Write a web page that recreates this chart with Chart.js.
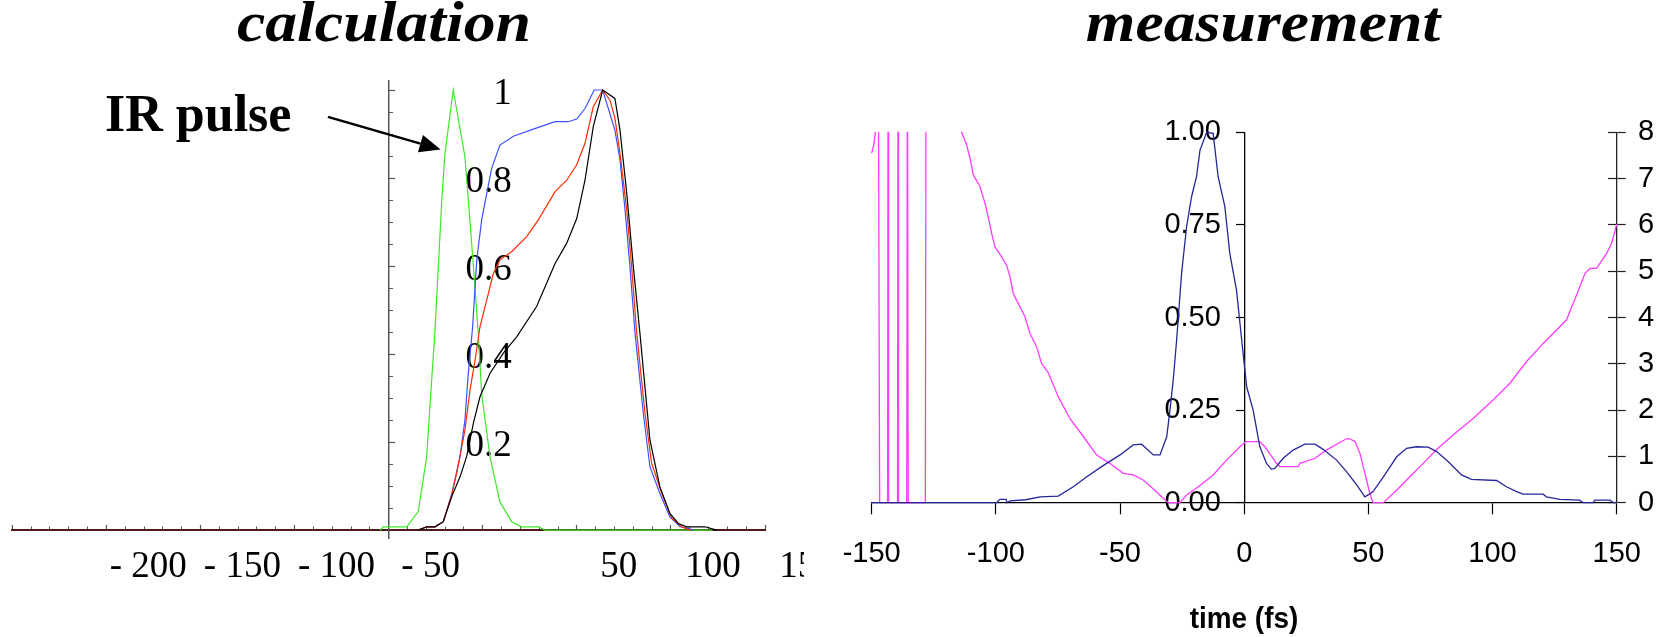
<!DOCTYPE html>
<html>
<head>
<meta charset="utf-8">
<script src="https://cdn.jsdelivr.net/npm/chart.js@4.4.1/dist/chart.umd.min.js"></script>
<style>
  html, body { margin: 0; padding: 0; background: #fff; }
  body { width: 1659px; height: 637px; position: relative; overflow: hidden; }
  canvas { position: absolute; top: 0; }
  #calc { left: 0; }
  #meas { left: 810px; }
  .txt { position: absolute; white-space: nowrap; color: #000; }
  .title {
    font-family: 'Liberation Serif', 'Times New Roman', serif;
    font-style: italic; font-weight: bold;
    font-size: 58px; line-height: 58px; top: -6.6px;
    transform: translateX(-50%) scaleX(1.1);
  }
  .note {
    font-family: 'Liberation Serif', 'Times New Roman', serif;
    font-weight: bold; font-size: 52px; line-height: 52px;
    left: 105px; top: 88px;
  }
  .axisTitle {
    font-family: 'Liberation Sans', Arial, sans-serif;
    font-weight: bold; font-size: 30px; line-height: 30px;
    left: 1244px; top: 602.6px;
    transform: translateX(-50%) scaleX(0.93);
  }
</style>
</head>
<body>
<canvas id="calc" width="804" height="637"></canvas>
<canvas id="meas" width="849" height="637"></canvas>
<div class="txt title" style="left:384px">calculation</div>
<div class="txt title" style="left:1263px">measurement</div>
<div class="txt note">IR pulse</div>
<div class="txt axisTitle">time (fs)</div>

<script>
// ---------- calculation: simulated pulse envelopes (time in fs, normalised) ----------
const irPulseT = [-4.6, -2.9, 9.6, 15.7, 20.2, 21.9, 24.6, 26.4, 28.2, 29.9, 34.3, 40.5, 42.3, 45.0, 47.6, 49.4, 53.8, 59.1, 65.4, 70.7, 79.5, 83.1, 172];
const irPulseI = [0, 0.0075, 0.0075, 0.042, 0.167, 0.28, 0.455, 0.60, 0.75, 0.856, 1.0, 0.848, 0.75, 0.60, 0.447, 0.31, 0.167, 0.064, 0.019, 0.0075, 0.0075, 0, 0];

const calcBlueT = [15.7, 20.2, 24.6, 29.0, 33.5, 37.9, 40.5, 42.3, 44.6, 46.8, 49.4, 52.1, 54.7, 59.1, 66.2, 76.8, 88.4, 95.4, 99.9, 104.3, 109.2, 113.7, 120.2, 122.9, 125.6, 128.2, 130.9, 135.3, 138.8, 144.1, 149.4, 154.8, 159.2, 161.7];
const calcBlueI = [0, 0.0075, 0.0075, 0.019, 0.083, 0.167, 0.25, 0.356, 0.462, 0.614, 0.705, 0.765, 0.822, 0.875, 0.895, 0.911, 0.928, 0.928, 0.934, 0.958, 1.0, 1.0, 0.909, 0.841, 0.727, 0.598, 0.447, 0.265, 0.144, 0.083, 0.030, 0.0075, 0.004, 0];

const calcRedT = [15.7, 20.2, 24.6, 29.0, 33.5, 36.1, 40.5, 43.2, 45.9, 48.5, 52.1, 55.6, 59.1, 65.4, 73.3, 79.5, 88.4, 94.6, 99.9, 104.3, 108.7, 113.7, 117.6, 120.2, 122.9, 126.5, 129.1, 131.8, 136.2, 139.7, 145.1, 150.4, 155.7, 160.1];
const calcRedI = [0, 0.0075, 0.0075, 0.019, 0.080, 0.129, 0.227, 0.318, 0.386, 0.462, 0.523, 0.583, 0.614, 0.633, 0.667, 0.705, 0.769, 0.795, 0.830, 0.879, 0.962, 1.0, 0.977, 0.936, 0.856, 0.727, 0.598, 0.447, 0.265, 0.152, 0.083, 0.027, 0.0075, 0];

const calcBlackT = [15.7, 20.2, 24.6, 29.0, 33.5, 37.9, 41.4, 45.0, 48.5, 53.8, 60.9, 68.0, 78.6, 88.4, 94.6, 99.9, 104.3, 108.7, 113.7, 120.2, 122.9, 126.5, 130.0, 133.5, 138.8, 144.1, 149.4, 153.9, 158.3, 168.1, 174.3];
const calcBlackI = [0, 0.0075, 0.0075, 0.019, 0.076, 0.121, 0.167, 0.243, 0.303, 0.356, 0.402, 0.439, 0.508, 0.606, 0.652, 0.708, 0.795, 0.917, 1.0, 0.981, 0.909, 0.765, 0.598, 0.447, 0.205, 0.098, 0.038, 0.015, 0.0075, 0.0075, 0];

const calcXTicks = [-200, -150, -100, -50, 50, 100, 150, 200];
const calcYTicks = [0.2, 0.4, 0.6, 0.8, 1];

// ---------- measurement: retrieved intensity (left axis) and phase (right axis) ----------
const measT = [-150, -99.7, -98.4, -95.9, -95.5, -94.3, -88, -82.2, -74.9, -68.8, -63.4, -56.8, -50.0, -44.7, -41.3, -36.6, -33.9, -31.2, -29.9, -28.6, -27.2, -25.2, -23.2, -21.2, -19.2, -17.8, -15.1, -12.5, -10.5, -7.8, -5.8, -3.1, -0.4, 1.0, 3.6, 6.3, 9.0, 11.0, 12.4, 15.7, 19.7, 24.4, 28.5, 31.8, 37.2, 41.2, 45.3, 48.6, 49.9, 51.9, 56.6, 61.4, 65.4, 69.4, 74.1, 77.5, 82.1, 87.5, 91.5, 101.6, 105.6, 109.7, 112.3, 120.4, 121.7, 127.1, 135.1, 136.5, 140.5, 141.2, 147.3, 148.6, 150];
const measIntensity = [0, 0, 0.009, 0.009, 0, 0.005, 0.008, 0.016, 0.018, 0.043, 0.07, 0.10, 0.129, 0.156, 0.158, 0.129, 0.129, 0.178, 0.25, 0.33, 0.44, 0.62, 0.745, 0.826, 0.88, 0.952, 1.0, 0.997, 0.88, 0.80, 0.673, 0.574, 0.40, 0.313, 0.25, 0.151, 0.106, 0.09, 0.093, 0.12, 0.142, 0.158, 0.158, 0.144, 0.115, 0.084, 0.048, 0.016, 0.021, 0.03, 0.075, 0.124, 0.147, 0.151, 0.15, 0.138, 0.111, 0.075, 0.063, 0.06, 0.043, 0.03, 0.023, 0.023, 0.016, 0.009, 0.007, 0, 0, 0.007, 0.007, 0, 0];

const measPhaseT = [-150, -149.2, -148.3, -147.3, -146.8, -143.6, -143.4, -143.2, -139.6, -139.4, -139.2, -135.9, -135.6, -135.3, -128.4, -128.1, -120, -115, -113.8, -111.8, -110.4, -109.1, -106.4, -104.4, -103.1, -101.7, -100.4, -97.7, -95.7, -94.3, -93.0, -90.3, -88.3, -86.3, -83.6, -81.6, -78.9, -74.9, -70.2, -64.8, -59.4, -54.1, -48.7, -44.7, -40.7, -36.0, -32.6, -30.6, -25.9, -23.2, -18.5, -12.5, -7.1, -1.7, 0.7, 6.3, 8.3, 13.0, 14.4, 21.7, 22.4, 28.5, 33.2, 38.5, 41.2, 42.6, 44.6, 46.6, 48.6, 50.6, 51.9, 56.0, 61.4, 66.7, 72.1, 77.5, 84.1, 92.2, 100.2, 107.0, 113.7, 120.4, 125.8, 129.8, 132.5, 135.2, 137.2, 139.2, 141.9, 146.0, 147.9, 149.2, 150];
const measPhase = [7.55, 7.72, 8.1, 9.2, 0, 0, 10.5, 0, 0, 10.5, 0, 0, 10.5, 0, 0, 10.5, 9.4, 8.4, 8.0, 7.73, 7.44, 7.08, 6.83, 6.47, 6.18, 5.82, 5.53, 5.31, 5.13, 4.88, 4.52, 4.23, 4.02, 3.66, 3.37, 3.01, 2.81, 2.29, 1.82, 1.43, 1.03, 0.85, 0.635, 0.6, 0.49, 0.27, 0.095, 0, 0, 0.166, 0.345, 0.6, 0.92, 1.21, 1.32, 1.32, 1.21, 0.85, 0.78, 0.78, 0.85, 0.96, 1.14, 1.30, 1.38, 1.38, 1.32, 1.07, 0.635, 0.2, 0, 0, 0.27, 0.56, 0.85, 1.15, 1.46, 1.82, 2.22, 2.58, 3.05, 3.44, 3.73, 3.95, 4.31, 4.67, 4.95, 5.06, 5.06, 5.39, 5.60, 5.85, 6.02];

const measXTicks = [-150, -100, -50, 0, 50, 100, 150];
const measYTicks = [0, 0.25, 0.5, 0.75, 1];
const measPhaseTicks = [0, 1, 2, 3, 4, 5, 6, 7, 8];

// ---------- helpers ----------
const pts = (xs, ys) => xs.map((x, i) => ({ x: x, y: ys[i] }));
const setTicks = list => scale => { scale.ticks = list.map(v => ({ value: v })); };
const noPad = s => { s.paddingLeft = 0; s.paddingRight = 0; s.paddingTop = 0; s.paddingBottom = 0; };
function steps(a, b, step) {
  const out = [];
  for (let v = a; v <= b + 1e-9; v += step) out.push(Math.round(v * 1000) / 1000);
  return out;
}

const serif = "'Liberation Serif', 'Times New Roman', serif";
const sans = "'Liberation Sans', Arial, sans-serif";
const AXIS_GREY = '#555';

// arrow from the "IR pulse" note to the IR curve, given in data units
const arrowTail = { x: -32.3, y: 0.939 };
const arrowHead = { x: 27.6, y: 0.865 };
const irArrow = {
  id: 'irArrow',
  afterDatasetsDraw(chart) {
    const { ctx, scales } = chart;
    const x0 = scales.x.getPixelForValue(arrowTail.x), y0 = scales.y.getPixelForValue(arrowTail.y);
    const x1 = scales.x.getPixelForValue(arrowHead.x), y1 = scales.y.getPixelForValue(arrowHead.y);
    const ang = Math.atan2(y1 - y0, x1 - x0);
    const len = 21, half = 9;
    const bx = x1 - len * Math.cos(ang), by = y1 - len * Math.sin(ang);
    ctx.save();
    ctx.strokeStyle = '#000'; ctx.fillStyle = '#000'; ctx.lineWidth = 2.5;
    ctx.beginPath(); ctx.moveTo(x0, y0); ctx.lineTo(bx, by); ctx.stroke();
    ctx.beginPath();
    ctx.moveTo(x1, y1);
    ctx.lineTo(bx + half * Math.sin(ang), by - half * Math.cos(ang));
    ctx.lineTo(bx - half * Math.sin(ang), by + half * Math.cos(ang));
    ctx.closePath(); ctx.fill();
    ctx.restore();
  }
};

// ---------- left panel ----------
new Chart(document.getElementById('calc'), {
  type: 'line',
  data: {
    datasets: [
      { data: pts(calcBlackT, calcBlackI), borderColor: '#000000', xAxisID: 'x', yAxisID: 'y' },
      { data: pts(calcRedT, calcRedI), borderColor: '#ff2a00', xAxisID: 'x', yAxisID: 'y' },
      { data: pts(calcBlueT, calcBlueI), borderColor: '#4050ff', xAxisID: 'x', yAxisID: 'y' },
      { data: pts(irPulseT, irPulseI), borderColor: '#3dea2a', xAxisID: 'x', yAxisID: 'y' }
    ]
  },
  options: {
    responsive: false, animation: false, devicePixelRatio: 1,
    layout: { padding: { left: 12.3, right: 38.9, top: 81, bottom: 99 } },
    elements: { line: { borderWidth: 1.2, tension: 0 }, point: { radius: 0 } },
    plugins: { legend: { display: false }, tooltip: { enabled: false } },
    scales: {
      x: {
        type: 'linear', min: -200, max: 200, position: { y: 0 },
        afterBuildTicks: setTicks(calcXTicks), afterFit: noPad,
        ticks: {
          autoSkip: false, maxRotation: 0, minRotation: 0, labelOffset: 136, padding: 21,
          color: '#000', font: { family: serif, size: 37 },
          callback: v => (v < 0 ? '- ' + (-v) : String(v))
        },
        grid: { drawOnChartArea: false, tickLength: -6, tickColor: AXIS_GREY, tickWidth: 1.2 },
        border: { color: '#4d1a1a', width: 2 }
      },
      xMinor: {
        type: 'linear', axis: 'x', min: -200, max: 200, position: { y: 0 },
        afterBuildTicks: setTicks(steps(-200, 200, 10)), afterFit: noPad,
        ticks: { display: false },
        grid: { drawOnChartArea: false, tickLength: -3.5, tickColor: AXIS_GREY, tickWidth: 1 },
        border: { display: false }
      },
      y: {
        type: 'linear', min: -0.018, max: 1.0205, position: { x: 0 },
        afterBuildTicks: setTicks(calcYTicks), afterFit: noPad,
        ticks: { display: false },
        grid: { drawOnChartArea: false, tickLength: -7, tickColor: AXIS_GREY, tickWidth: 1.2 },
        border: { color: AXIS_GREY, width: 1.5 }
      },
      yMinor: {
        type: 'linear', axis: 'y', min: -0.018, max: 1.0205, position: { x: 0 },
        afterBuildTicks: setTicks(steps(0, 1, 0.05)), afterFit: noPad,
        ticks: { display: false },
        grid: { drawOnChartArea: false, tickLength: -4, tickColor: AXIS_GREY, tickWidth: 1 },
        border: { display: false }
      },
      yLab: {
        type: 'linear', axis: 'y', min: -0.018, max: 1.0205, position: { x: 65.4 },
        afterBuildTicks: setTicks(calcYTicks), afterFit: noPad,
        ticks: {
          padding: 0, labelOffset: 4.5, color: '#000', font: { family: serif, size: 37 },
          callback: v => (v === 1 ? '1' : String(v))
        },
        grid: { display: false },
        border: { display: false }
      }
    }
  },
  plugins: [irArrow]
});

// ---------- right panel ----------
new Chart(document.getElementById('meas'), {
  type: 'line',
  data: {
    datasets: [
      { data: pts(measT, measIntensity), borderColor: '#26269a', borderWidth: 1.3,
        xAxisID: 'x', yAxisID: 'y', clip: { left: 1, right: 1, top: 1, bottom: 2 } },
      { data: pts(measPhaseT, measPhase), borderColor: '#ff3cff', borderWidth: 1.3,
        xAxisID: 'x', yAxisID: 'y2', clip: { left: 1, right: 1, top: 0.5, bottom: 2 } }
    ]
  },
  options: {
    responsive: false, animation: false, devicePixelRatio: 1,
    layout: { padding: { left: 61.7, right: 0, top: 132.3, bottom: 134.3 } },
    elements: { line: { tension: 0 }, point: { radius: 0 } },
    plugins: { legend: { display: false }, tooltip: { enabled: false } },
    scales: {
      x: {
        type: 'linear', min: -150, max: 150, position: { y: 0 },
        afterBuildTicks: setTicks(measXTicks), afterFit: noPad,
        ticks: {
          autoSkip: false, maxRotation: 0, minRotation: 0, padding: 23,
          color: '#000', font: { family: sans, size: 29 }, callback: v => String(v)
        },
        grid: { drawOnChartArea: false, tickLength: 11, tickColor: '#000', tickWidth: 1.2 },
        border: { color: '#000', width: 1.3 }
      },
      y: {
        type: 'linear', min: 0, max: 1, position: { x: 0 },
        afterBuildTicks: setTicks(measYTicks), afterFit: noPad,
        ticks: { display: false },
        grid: { drawOnChartArea: false, tickLength: 8, tickColor: '#000', tickWidth: 1.2 },
        border: { color: '#000', width: 1.3 }
      },
      yLab: {
        type: 'linear', axis: 'y', min: 0, max: 1, position: { x: -9.4 },
        afterBuildTicks: setTicks(measYTicks), afterFit: noPad,
        ticks: { padding: 0, color: '#000', font: { family: sans, size: 29 }, callback: v => v.toFixed(2) },
        grid: { display: false },
        border: { display: false }
      },
      y2: {
        type: 'linear', min: 0, max: 8, position: 'right',
        afterBuildTicks: setTicks(measPhaseTicks),
        afterFit: s => { noPad(s); s.width = 42.3; },
        ticks: { padding: 12.3, color: '#000', font: { family: sans, size: 29 }, callback: v => String(v) },
        grid: { drawOnChartArea: false, tickLength: 9, tickColor: '#222', tickWidth: 1.2 },
        border: { color: '#222', width: 1.3 }
      },
      y2In: {
        type: 'linear', axis: 'y', min: 0, max: 8, position: { x: 150 },
        afterBuildTicks: setTicks(measPhaseTicks), afterFit: noPad,
        ticks: { display: false },
        grid: { drawOnChartArea: false, tickLength: 9, tickColor: '#222', tickWidth: 1.2 },
        border: { display: false }
      }
    }
  }
});
</script>
</body>
</html>
